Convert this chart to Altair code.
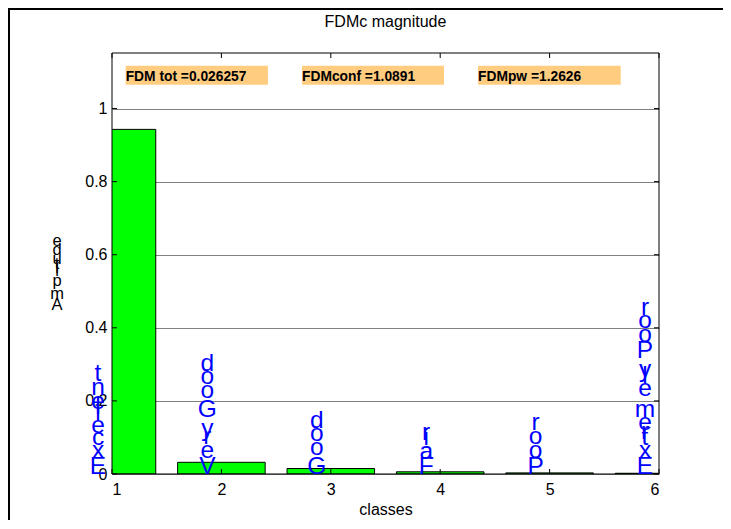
import altair as alt
import pandas as pd

# ---- data ----
classes = [1, 2, 3, 4, 5, 6]
amplitude = [0.943, 0.032, 0.015, 0.006, 0.003, 0.002]
class_labels = ["Excellent", "Very Good", "Good", "Fair", "Poor", "Extremely Poor"]
x_ticks = [1, 2, 3, 4, 5, 6]
y_ticks = [0, 0.2, 0.4, 0.6, 0.8, 1.0]
annot_text = ["FDM tot =0.026257", "FDMconf =1.0891", "FDMpw =1.2626"]
annot_x0 = [1.125, 2.737, 4.346]
annot_x1 = [2.425, 4.035, 5.650]
annot_y0 = [1.065, 1.065, 1.065]
annot_y1 = [1.117, 1.117, 1.117]
annot_ybase = [1.0755, 1.0755, 1.0755]
y_title = "Amplitude"
y_title_base = 0.448
chart_title = ["FDMc magnitude"]

# ---- layout / style ----
W, H = 547, 421
XMIN, XMAX, YMAX = 1, 6, 1.152
BAR_W = 0.8
FONT = "Liberation Sans, Arial, Helvetica, sans-serif"
LABEL_FS = 24.5
YTITLE_FS = 16.5
PX_PER_UNIT = H / YMAX

# Arial / Liberation Sans advance widths (em/1000)
ADV = {" ": 278, "A": 667, "E": 667, "F": 611, "G": 778, "P": 667, "V": 667,
       "a": 556, "c": 500, "d": 556, "e": 556, "i": 222, "l": 222, "m": 833,
       "n": 556, "o": 556, "p": 556, "r": 333, "t": 278, "u": 556, "x": 500,
       "y": 500}


def stacked(word, fs):
    """Characters stacked upward by their advance width (MATLAB-like)."""
    rows, cum = [], 0.0
    for ch in word:
        if ch != " ":
            rows.append((ch, cum / PX_PER_UNIT))
        cum += ADV[ch] / 1000 * fs
    return rows


bars = pd.DataFrame({"cls": classes, "amp": amplitude})
bars["x0"] = bars["cls"] - BAR_W / 2
bars["x1"] = bars["cls"] + BAR_W / 2

lab_rows = []
for c, w in zip(classes, class_labels):
    for ch, off in stacked(w, LABEL_FS):
        lab_rows.append({"cls": c, "ch": ch, "yc": off})
labels_df = pd.DataFrame(lab_rows)

yt_rows = [{"ch": ch, "yc": y_title_base + off} for ch, off in stacked(y_title, YTITLE_FS)]
ytitle_df = pd.DataFrame(yt_rows)

annot = pd.DataFrame({"t": annot_text, "x0": annot_x0, "x1": annot_x1,
                      "y0": annot_y0, "y1": annot_y1, "yb": annot_ybase})
xt = pd.DataFrame({"v": x_ticks})
yt = pd.DataFrame({"v": y_ticks})
one = pd.DataFrame({"a": [0]})
title_df = pd.DataFrame({"t": chart_title})

xs = alt.Scale(domain=[XMIN, XMAX], nice=False, zero=False)
ys = alt.Scale(domain=[0, YMAX], nice=False)

xaxis = alt.Axis(values=x_ticks, format="d", tickSize=0, labelPadding=7,
                 labelFontSize=16, labelFont=FONT, labelColor="black",
                 title="classes", titleFontSize=16, titleFont=FONT,
                 titleFontWeight="normal", titleColor="black", titlePadding=4,
                 domain=False, grid=False)
yaxis = alt.Axis(values=y_ticks, format="~g", tickSize=0, labelPadding=5,
                 labelFontSize=16, labelFont=FONT, labelColor="black",
                 title=None, domain=False, grid=True, gridColor="#808080",
                 gridWidth=1, gridOpacity=1)

bar_layer = alt.Chart(bars).mark_bar(clip=True, color="#00ff00", stroke="black",
                                     strokeWidth=1).encode(
    x=alt.X("x0:Q", scale=xs, axis=xaxis),
    x2="x1:Q",
    y=alt.Y("amp:Q", scale=ys, axis=yaxis),
    y2=alt.datum(0),
)

xt_bottom = alt.Chart(xt).mark_rule(color="black").encode(
    x=alt.X("v:Q", scale=xs), y=alt.value(H), y2=alt.value(H - 5))
xt_top = alt.Chart(xt).mark_rule(color="black").encode(
    x=alt.X("v:Q", scale=xs), y=alt.value(0), y2=alt.value(5))
yt_left = alt.Chart(yt).mark_rule(color="black").encode(
    y=alt.Y("v:Q", scale=ys), x=alt.value(0), x2=alt.value(5))
yt_right = alt.Chart(yt).mark_rule(color="black").encode(
    y=alt.Y("v:Q", scale=ys), x=alt.value(W - 5), x2=alt.value(W))

box = alt.Chart(one).mark_rect(fillOpacity=0, stroke="black", strokeWidth=1).encode(
    x=alt.value(0), x2=alt.value(W), y=alt.value(0), y2=alt.value(H))

label_layer = alt.Chart(labels_df).mark_text(
    font=FONT, fontSize=LABEL_FS, color="#0000ff", align="center",
    baseline="alphabetic", dx=-14).encode(
    x=alt.X("cls:Q", scale=xs), y=alt.Y("yc:Q", scale=ys), text="ch:N")

ytitle_layer = alt.Chart(ytitle_df).mark_text(
    font=FONT, fontSize=YTITLE_FS, color="black", align="center",
    baseline="alphabetic").encode(
    x=alt.value(-55), y=alt.Y("yc:Q", scale=ys), text="ch:N")

annot_rect = alt.Chart(annot).mark_rect(color="#ffcc80").encode(
    x=alt.X("x0:Q", scale=xs), x2="x1:Q",
    y=alt.Y("y0:Q", scale=ys), y2="y1:Q")
annot_txt = alt.Chart(annot).mark_text(
    font=FONT, fontSize=13.8, fontWeight="bold", color="black", align="left",
    baseline="alphabetic", dx=0).encode(
    x=alt.X("x0:Q", scale=xs), y=alt.Y("yb:Q", scale=ys), text="t:N")

title_layer = alt.Chart(title_df).mark_text(
    font=FONT, fontSize=16, color="black", align="center",
    baseline="alphabetic").encode(
    x=alt.value(W / 2), y=alt.value(-26), text="t:N")

border_left = alt.Chart(one).mark_rule(color="black", strokeWidth=2).encode(
    x=alt.value(-103), y=alt.value(-45), y2=alt.value(H + 47))
border_top = alt.Chart(one).mark_rule(color="black", strokeWidth=2).encode(
    y=alt.value(-44), x=alt.value(-104), x2=alt.value(W + 64))

chart = alt.layer(
    bar_layer, xt_bottom, xt_top, yt_left, yt_right, box,
    annot_rect, annot_txt, label_layer, ytitle_layer, title_layer,
    border_left, border_top,
).properties(
    width=W, height=H,
    autosize=alt.AutoSizeParams(type="none"),
    padding={"left": 104, "top": 45, "right": 64, "bottom": 46},
    background="white",
).configure_view(stroke=None)

chart.save("out.html", embed_options={"renderer": "svg", "actions": False})
